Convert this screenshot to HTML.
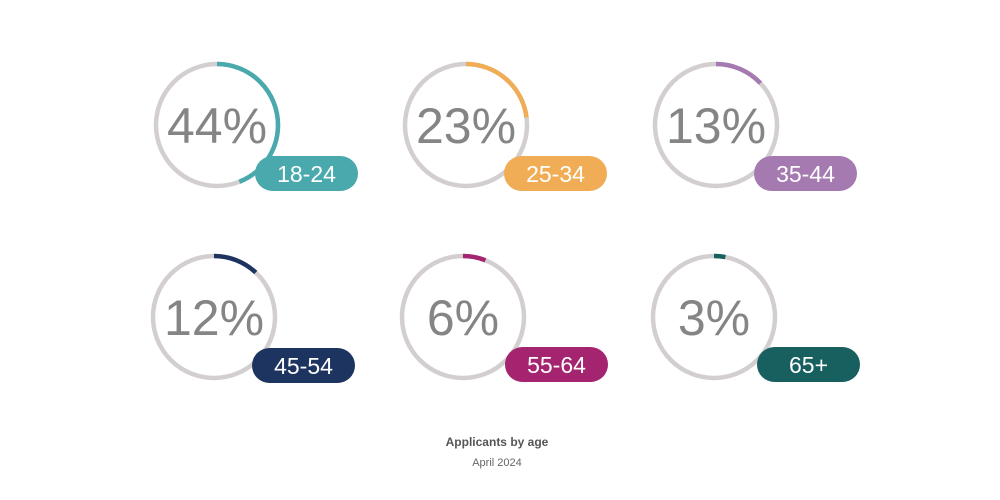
<!DOCTYPE html>
<html><head><meta charset="utf-8"><style>
body{margin:0;background:#fff;}
svg{display:block;}
.p{font-family:"Liberation Sans",sans-serif;font-size:50px;fill:#858585;font-weight:300;}
.l{font-family:"Liberation Sans",sans-serif;font-size:23px;fill:#fff;}
.g{fill:none;stroke:#d3cfd1;stroke-width:4.5;}
.a{fill:none;stroke-width:4.5;}
</style></head><body>
<svg width="1000" height="500" viewBox="0 0 1000 500" xmlns="http://www.w3.org/2000/svg">
<circle class="g" cx="217" cy="125" r="61"/>
<circle class="a" cx="217" cy="125" r="61" stroke="#4aa9ad" stroke-dasharray="168.64 400" transform="rotate(-90 217 125)"/>
<text class="p" x="217" y="143" text-anchor="middle">44%</text>
<rect x="255" y="156" width="103" height="35" rx="17.5" fill="#4aa9ad"/>
<text class="l" x="306.5" y="182" text-anchor="middle">18-24</text>

<circle class="g" cx="466" cy="125" r="61"/>
<circle class="a" cx="466" cy="125" r="61" stroke="#f0ad55" stroke-dasharray="88.15 400" transform="rotate(-90 466 125)"/>
<text class="p" x="466" y="143" text-anchor="middle">23%</text>
<rect x="504" y="156" width="103" height="35" rx="17.5" fill="#f0ad55"/>
<text class="l" x="555.5" y="182" text-anchor="middle">25-34</text>

<circle class="g" cx="716" cy="125" r="61"/>
<circle class="a" cx="716" cy="125" r="61" stroke="#a57ab0" stroke-dasharray="49.83 400" transform="rotate(-90 716 125)"/>
<text class="p" x="716" y="143" text-anchor="middle">13%</text>
<rect x="754" y="156" width="103" height="35" rx="17.5" fill="#a57ab0"/>
<text class="l" x="805.5" y="182" text-anchor="middle">35-44</text>

<circle class="g" cx="214" cy="317" r="61"/>
<circle class="a" cx="214" cy="317" r="61" stroke="#1d3461" stroke-dasharray="45.99 400" transform="rotate(-90 214 317)"/>
<text class="p" x="214" y="335" text-anchor="middle">12%</text>
<rect x="252" y="348" width="103" height="35" rx="17.5" fill="#1d3461"/>
<text class="l" x="303.5" y="374" text-anchor="middle">45-54</text>

<circle class="g" cx="463" cy="317" r="61"/>
<circle class="a" cx="463" cy="317" r="61" stroke="#a4246f" stroke-dasharray="23 400" transform="rotate(-90 463 317)"/>
<text class="p" x="463" y="335" text-anchor="middle">6%</text>
<rect x="505" y="347" width="103" height="35" rx="17.5" fill="#a4246f"/>
<text class="l" x="556.5" y="373" text-anchor="middle">55-64</text>

<circle class="g" cx="714" cy="317" r="61"/>
<circle class="a" cx="714" cy="317" r="61" stroke="#17605f" stroke-dasharray="11.5 400" transform="rotate(-90 714 317)"/>
<text class="p" x="714" y="335" text-anchor="middle">3%</text>
<rect x="757" y="347" width="103" height="35" rx="17.5" fill="#17605f"/>
<text class="l" x="808.5" y="373" text-anchor="middle">65+</text>

<text x="497" y="446" text-anchor="middle" font-family="Liberation Sans,sans-serif" font-size="12" font-weight="bold" fill="#555">Applicants by age</text>
<text x="497" y="466" text-anchor="middle" font-family="Liberation Sans,sans-serif" font-size="11" fill="#666">April 2024</text>
</svg>
</body></html>
